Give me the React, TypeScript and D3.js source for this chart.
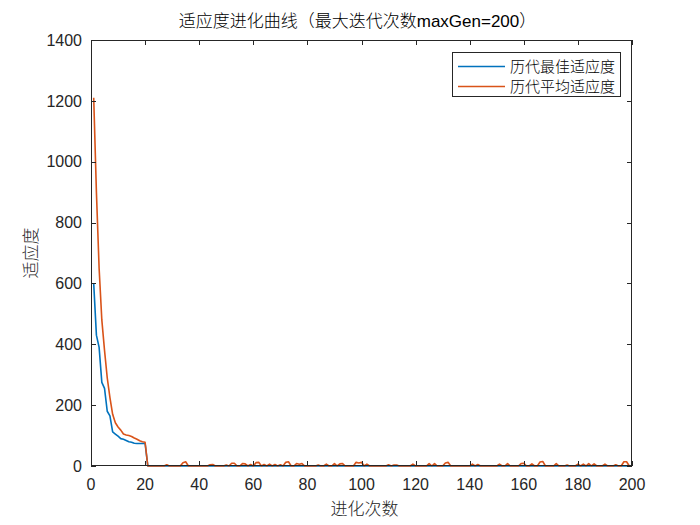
import React, { useEffect, useRef } from "react";
import * as d3 from "d3";

const title = "适应度进化曲线（最大迭代次数maxGen=200）";
const xLabel = "进化次数";
const yLabel = "适应度";
const seriesNames = ["历代最佳适应度", "历代平均适应度"];
const xTicks = [0, 20, 40, 60, 80, 100, 120, 140, 160, 180, 200];
const yTicks = [0, 200, 400, 600, 800, 1000, 1200, 1400];

// generations 1..20 (before convergence)
const bestEarly = [600, 430, 390, 275, 255, 180, 165, 112, 105, 98, 90, 88, 84, 80, 78, 75, 74, 74, 74, 74];
const avgEarly = [1210, 900, 650, 480, 380, 290, 225, 170, 142, 128, 118, 105, 102, 100, 97, 92, 88, 83, 80, 78];

// generations 21..200
const bestLate = [
  0, 0, 0, 0, 0, 0, 0, 0, 0, 0, 0, 0, 0, 0, 0, 0, 0, 0, 0, 0,
  0, 0, 0, 0, 0, 0, 0, 0, 0, 0, 0, 0, 0, 0, 0, 0, 0, 0, 0, 0,
  0, 0, 0, 0, 0, 0, 0, 0, 0, 0, 0, 0, 0, 0, 0, 0, 0, 0, 0, 0,
  0, 0, 0, 0, 0, 0, 0, 0, 0, 0, 0, 0, 0, 0, 0, 0, 0, 0, 0, 0,
  0, 0, 0, 0, 0, 0, 0, 0, 0, 0, 0, 0, 0, 0, 0, 0, 0, 0, 0, 0,
  0, 0, 0, 0, 0, 0, 0, 0, 0, 0, 0, 0, 0, 0, 0, 0, 0, 0, 0, 0,
  0, 0, 0, 0, 0, 0, 0, 0, 0, 0, 0, 0, 0, 0, 0, 0, 0, 0, 0, 0,
  0, 0, 0, 0, 0, 0, 0, 0, 0, 0, 0, 0, 0, 0, 0, 0, 0, 0, 0, 0,
  0, 0, 0, 0, 0, 0, 0, 0, 0, 0, 0, 0, 0, 0, 0, 0, 0, 0, 0, 0,
];
const avgLate = [
  // 21-40
  0, 0, 0, 0, 0, 0, 0, 4, 0, 0, 0, 0, 0, 11, 14, 0, 0, 0, 0, 0,
  // 41-60
  0, 0, 0, 4, 5, 0, 0, 0, 0, 3, 0, 9, 9, 0, 0, 8, 7, 0, 5, 0,
  // 61-80
  11, 12, 0, 5, 0, 6, 0, 5, 0, 4, 0, 12, 14, 0, 0, 8, 6, 8, 0, 0,
  // 81-100
  0, 0, 0, 3, 0, 0, 6, 0, 0, 8, 0, 7, 8, 0, 0, 0, 0, 12, 10, 12,
  // 101-120
  0, 6, 0, 0, 0, 0, 0, 0, 0, 4, 0, 3, 3, 0, 0, 0, 0, 0, 6, 0,
  // 121-140
  0, 0, 0, 0, 8, 0, 8, 0, 0, 0, 10, 12, 0, 0, 0, 0, 0, 0, 0, 0,
  // 141-160
  6, 0, 5, 0, 0, 0, 0, 0, 0, 0, 6, 0, 0, 8, 0, 0, 0, 0, 8, 9,
  // 161-180
  0, 0, 7, 0, 0, 13, 15, 0, 0, 0, 0, 8, 0, 0, 0, 3, 0, 0, 0, 6,
  // 181-200
  0, 6, 0, 8, 0, 7, 0, 0, 0, 6, 0, 0, 0, 4, 0, 0, 14, 14, 0, 0,
];

const bestValues = [...bestEarly, ...bestLate];
const avgValues = [...avgEarly, ...avgLate];
const colors = ["#0072BD", "#D95319"];

export default function App() {
  const ref = useRef<SVGSVGElement | null>(null);

  useEffect(() => {
    const svg = d3.select(ref.current);
    svg.selectAll("*").remove();
    const W = 700, H = 525;
    const left = 91, right = 632, top = 40, bottom = 466;
    const axisColor = "#262626";
    const numFont = "'Liberation Sans', Arial, Helvetica, sans-serif";
    const cjkFont = "'Noto Sans CJK SC', sans-serif";

    svg.append("rect").attr("width", W).attr("height", H).attr("fill", "#ffffff");

    const x = d3.scaleLinear().domain([0, 200]).range([left, right]);
    const y = d3.scaleLinear().domain([0, 1400]).range([bottom, top]);

    const plot = svg.append("g");
    const clipId = "plotclip";
    svg.append("defs").append("clipPath").attr("id", clipId)
      .append("rect").attr("x", left).attr("y", top - 2).attr("width", right - left).attr("height", bottom - top + 4);

    const line = d3.line<number>().x((_, i) => x(i + 1)).y((d) => y(d));
    [bestValues, avgValues].forEach((vals, k) => {
      plot.append("path")
        .attr("d", line(vals) as string)
        .attr("fill", "none")
        .attr("stroke", colors[k])
        .attr("stroke-width", 1.6)
        .attr("stroke-linejoin", "round")
        .attr("clip-path", `url(#${clipId})`);
    });

    // axes box
    const ax = svg.append("g").attr("stroke", axisColor).attr("stroke-width", 1).attr("fill", "none");
    ax.append("rect").attr("x", left + 0.5).attr("y", top + 0.5).attr("width", right - left - 1).attr("height", bottom - top - 1);
    const tl = 5;
    xTicks.forEach((t) => {
      const px = Math.round(x(t)) + 0.5;
      ax.append("line").attr("x1", px).attr("x2", px).attr("y1", bottom).attr("y2", bottom - tl);
      ax.append("line").attr("x1", px).attr("x2", px).attr("y1", top).attr("y2", top + tl);
    });
    yTicks.forEach((t) => {
      const py = Math.round(y(t)) + 0.5;
      ax.append("line").attr("x1", left).attr("x2", left + tl).attr("y1", py).attr("y2", py);
      ax.append("line").attr("x1", right).attr("x2", right - tl).attr("y1", py).attr("y2", py);
    });

    const tg = svg.append("g").attr("fill", axisColor).attr("font-family", numFont).attr("font-size", 16);
    xTicks.forEach((t) => {
      tg.append("text").attr("x", x(t)).attr("y", bottom + 24).attr("text-anchor", "middle").text(String(t));
    });
    yTicks.forEach((t) => {
      tg.append("text").attr("x", left - 9).attr("y", y(t)).attr("dy", "0.36em").attr("text-anchor", "end").text(String(t));
    });

    // title
    svg.append("text")
      .attr("x", (left + right) / 2 - 4).attr("y", 27)
      .attr("text-anchor", "middle")
      .attr("font-family", `'Liberation Sans', Arial, ${cjkFont}`)
      .attr("font-weight", 300)
      .attr("font-size", 17)
      .attr("fill", "#000")
      .text(title);

    // x label
    svg.append("text")
      .attr("x", (left + right) / 2 + 3).attr("y", 515)
      .attr("text-anchor", "middle")
      .attr("font-family", cjkFont).attr("font-weight", 300)
      .attr("font-size", 17).attr("fill", axisColor)
      .text(xLabel);

    // y label
    svg.append("text")
      .attr("transform", `translate(37, 253) rotate(-90)`)
      .attr("text-anchor", "middle")
      .attr("font-family", cjkFont).attr("font-weight", 300)
      .attr("font-size", 17).attr("fill", axisColor)
      .text(yLabel);

    // legend
    const lg = svg.append("g");
    lg.append("rect").attr("x", 452.5).attr("y", 52.5).attr("width", 168).attr("height", 44)
      .attr("fill", "#fff").attr("stroke", axisColor).attr("stroke-width", 1);
    seriesNames.forEach((n, i) => {
      const yy = 66.5 + i * 20;
      lg.append("line").attr("x1", 458).attr("x2", 505).attr("y1", yy).attr("y2", yy)
        .attr("stroke", colors[i]).attr("stroke-width", 1.6);
      lg.append("text").attr("x", 510).attr("y", yy).attr("dy", "0.36em")
        .attr("font-family", cjkFont).attr("font-weight", 300)
        .attr("font-size", 15).attr("fill", "#000").text(n);
    });
  }, []);

  return (
    <svg ref={ref} width={700} height={525} style={{ position: "absolute", left: 0, top: 0, display: "block" }} />
  );
}
